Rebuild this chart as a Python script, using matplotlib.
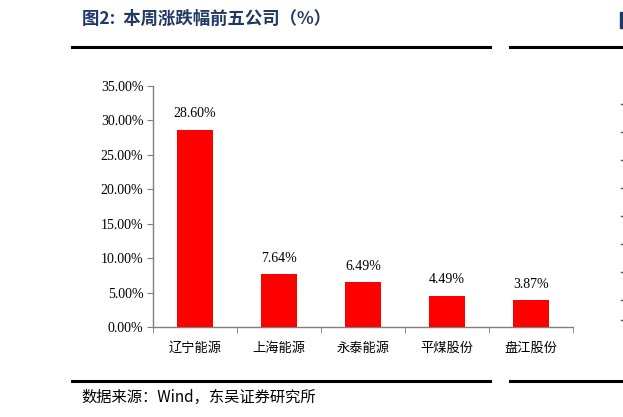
import matplotlib
matplotlib.use("Agg")
import matplotlib.pyplot as plt
from matplotlib.lines import Line2D
from matplotlib.patches import Rectangle
from matplotlib.ticker import FuncFormatter, FixedLocator

categories = ["辽宁能源", "上海能源", "永泰能源", "平煤股份", "盘江股份"]
values = [28.60, 7.64, 6.49, 4.49, 3.87]
yticks = [0, 5, 10, 15, 20, 25, 30, 35]

W, H = 623, 417
fig = plt.figure(figsize=(W / 100, H / 100), dpi=100)
cjk = ["Noto Sans CJK SC", "DejaVu Sans"]
serif = ["Liberation Serif", "DejaVu Serif"]

def fx(px):
    return px / W

def fy(py):
    return 1 - py / H

ax = fig.add_axes([fx(153), fy(327), fx(573) - fx(153), fy(86) - fy(327)])
x = list(range(len(categories)))
bars = ax.bar(x, values, width=0.42, color="#FF0000", zorder=3)
ax.set_xlim(-0.5, len(categories) - 0.5)
ax.set_ylim(0, 35)
ax.set_yticks(yticks)
ax.yaxis.set_major_formatter(FuncFormatter(lambda v, p: f"{v:.2f}%"))
for lbl in ax.get_yticklabels():
    lbl.set_fontfamily(serif)
    lbl.set_fontsize(10)
ax.set_xticks(x)
ax.set_xticklabels(categories, fontfamily=cjk, fontsize=9.5)
ax.tick_params(axis="x", length=0, pad=11)
ax.xaxis.set_minor_locator(FixedLocator([i + 0.5 for i in range(-1, len(categories))]))
ax.tick_params(axis="x", which="minor", length=4, color="#7f7f7f", direction="out")
ax.tick_params(axis="y", length=4, color="#7f7f7f", direction="out", pad=3)
for s in ["top", "right"]:
    ax.spines[s].set_visible(False)
for s in ["left", "bottom"]:
    ax.spines[s].set_color("#7f7f7f")
    ax.spines[s].set_linewidth(1.0)

for xi, v in zip(x, values):
    ax.annotate(f"{v:.2f}%", (xi, v), xytext=(0, 7), textcoords="offset points",
                ha="center", va="bottom", fontfamily=serif, fontsize=10)

# Title and rules
fig.text(fx(82), fy(19), "图2:  本周涨跌幅前五公司（%）", fontfamily=cjk, fontsize=12.5,
         fontweight="bold", color="#1F3864", ha="left", va="center")
fig.add_artist(Line2D([fx(72), fx(490)], [fy(47), fy(47)], color="black", lw=2.2))
fig.add_artist(Line2D([fx(510), fx(623)], [fy(47), fy(47)], color="black", lw=2.2))
fig.add_artist(Line2D([fx(72), fx(490)], [fy(381), fy(381)], color="black", lw=2.2))
fig.add_artist(Line2D([fx(510), fx(623)], [fy(381), fy(381)], color="black", lw=2.2))
fig.text(fx(81), fy(397), "数据来源：Wind，东吴证券研究所", fontfamily=cjk, fontsize=11,
         color="black", ha="left", va="center")

# Fragments of the neighbouring chart
fig.add_artist(Rectangle((fx(620), fy(28)), fx(5), fy(12) - fy(28), color="#1F3864"))
for py in [104, 132, 160, 188, 216, 244, 272, 300, 320]:
    fig.add_artist(Line2D([fx(621), fx(623)], [fy(py), fy(py)], color="#555555", lw=1))

fig.savefig("out.png", dpi=100)
